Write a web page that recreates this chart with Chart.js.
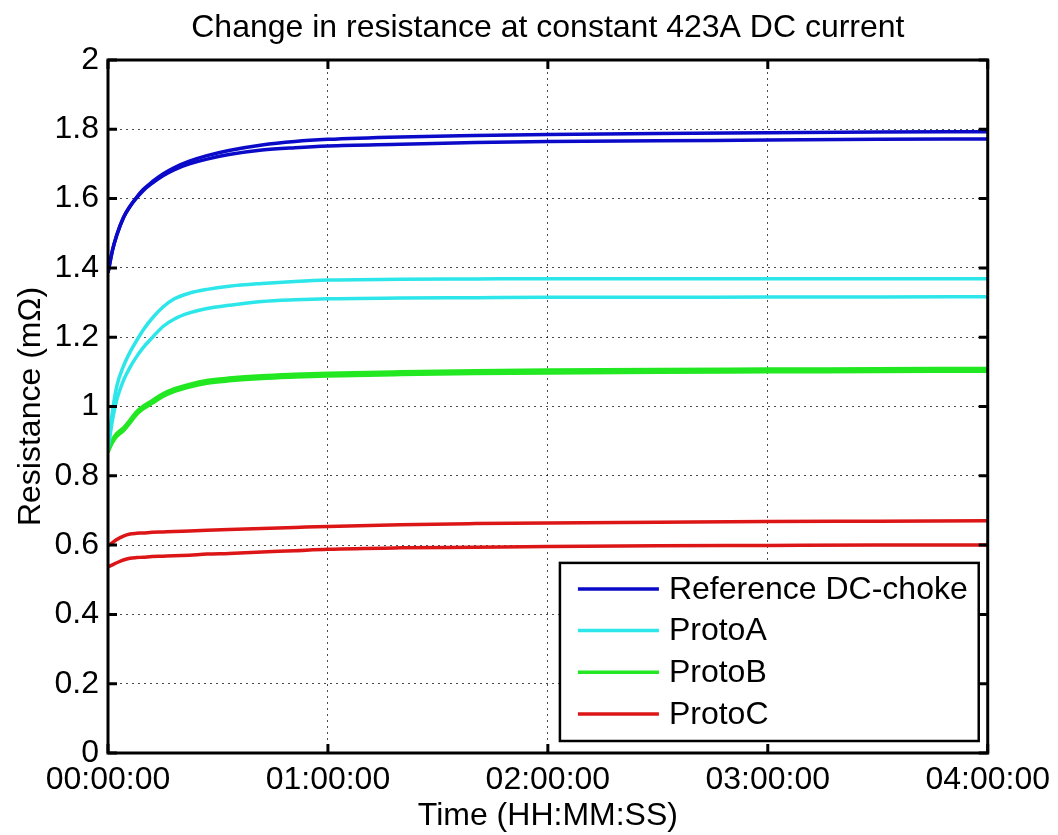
<!DOCTYPE html>
<html>
<head>
<meta charset="utf-8">
<title>Change in resistance at constant 423A DC current</title>
<script src="https://cdn.jsdelivr.net/npm/chart.js@4"></script>
<style>
  html, body { margin: 0; padding: 0; background: #fff; }
  canvas { display: block; }
</style>
</head>
<body>
<canvas id="chart" width="1058" height="835"></canvas>
<script>
// Elapsed time of each sample, in hours
const hours = [0, 0.02, 0.04, 0.07, 0.1, 0.13, 0.16, 0.2, 0.25, 0.3, 0.37, 0.45, 0.55, 0.7, 0.85, 1.0, 1.33, 1.67, 2.0, 2.5, 3.0, 3.5, 4.0];

// Resistance in mOhm, two measurements per choke
const refChoke1 = [1.386, 1.45, 1.495, 1.545, 1.578, 1.604, 1.626, 1.648, 1.671, 1.689, 1.708, 1.724, 1.739, 1.755, 1.765, 1.771, 1.778, 1.782, 1.785, 1.788, 1.790, 1.792, 1.793];
const refChoke2 = [1.386, 1.45, 1.495, 1.545, 1.577, 1.602, 1.623, 1.644, 1.666, 1.683, 1.700, 1.714, 1.727, 1.740, 1.747, 1.752, 1.757, 1.762, 1.765, 1.767, 1.769, 1.771, 1.772];
const protoA1 = [0.875, 0.985, 1.059, 1.116, 1.157, 1.19, 1.221, 1.254, 1.287, 1.31, 1.327, 1.338, 1.347, 1.355, 1.361, 1.365, 1.367, 1.368, 1.369, 1.369, 1.369, 1.369, 1.369];
const protoA2 = [0.875, 0.96, 1.02, 1.075, 1.113, 1.144, 1.17, 1.198, 1.231, 1.252, 1.27, 1.283, 1.292, 1.303, 1.308, 1.311, 1.313, 1.314, 1.315, 1.315, 1.316, 1.316, 1.317];
const protoB1 = [0.876, 0.904, 0.922, 0.938, 0.961, 0.985, 1.001, 1.017, 1.037, 1.051, 1.064, 1.075, 1.082, 1.089, 1.093, 1.096, 1.100, 1.103, 1.105, 1.107, 1.108, 1.109, 1.110];
const protoB2 = [0.868, 0.896, 0.914, 0.930, 0.953, 0.977, 0.993, 1.009, 1.029, 1.043, 1.056, 1.067, 1.074, 1.081, 1.085, 1.088, 1.092, 1.095, 1.097, 1.099, 1.100, 1.101, 1.102];
const protoC1 = [0.598, 0.607, 0.616, 0.626, 0.632, 0.634, 0.635, 0.637, 0.638, 0.639, 0.641, 0.643, 0.645, 0.648, 0.651, 0.654, 0.659, 0.662, 0.664, 0.666, 0.668, 0.669, 0.670];
const protoC2 = [0.537, 0.543, 0.549, 0.557, 0.562, 0.564, 0.565, 0.567, 0.568, 0.569, 0.571, 0.574, 0.576, 0.580, 0.584, 0.588, 0.592, 0.594, 0.596, 0.598, 0.599, 0.600, 0.600];

const seriesNames = ['Reference DC-choke', 'ProtoA', 'ProtoB', 'ProtoC'];
const seriesRuns = [[refChoke1, refChoke2], [protoA1, protoA2], [protoB1, protoB2], [protoC1, protoC2]];
const seriesColors = ['#0a0ac8', '#2ce6ea', '#22e822', '#dc1616'];

const yTicks = [0, 0.2, 0.4, 0.6, 0.8, 1, 1.2, 1.4, 1.6, 1.8, 2];
const yTickLabels = ['0', '0.2', '0.4', '0.6', '0.8', '1', '1.2', '1.4', '1.6', '1.8', '2'];
const xTickHours = [0, 1, 2, 3, 4];
const xTickLabels = ['00:00:00', '01:00:00', '02:00:00', '03:00:00', '04:00:00'];

const chartTitle = 'Change in resistance at constant 423A DC current';
const FONT = '"Liberation Sans", Arial, Helvetica, sans-serif';
const FONT_SIZE = 32;

const datasets = [];
seriesRuns.forEach((runs, s) => {
  runs.forEach(run => {
    datasets.push({
      label: seriesNames[s],
      data: hours.map((h, i) => ({ x: h, y: run[i] })),
      borderColor: seriesColors[s],
      backgroundColor: seriesColors[s],
      borderWidth: 3.5,
      pointRadius: 0,
      cubicInterpolationMode: 'monotone',
      fill: false
    });
  });
});

// Title centred over the plot box
const titlePlugin = {
  id: 'plotTitle',
  afterDraw(chart) {
    const { ctx, chartArea: a } = chart;
    ctx.save();
    ctx.fillStyle = '#000';
    ctx.font = FONT_SIZE + 'px ' + FONT;
    ctx.textAlign = 'center';
    ctx.textBaseline = 'middle';
    ctx.fillText(chartTitle, (a.left + a.right) / 2, 28);
    ctx.restore();
  }
};

// Boxed axes with inward tick marks on all four sides
const framePlugin = {
  id: 'axesFrame',
  afterDatasetsDraw(chart) {
    const { ctx, chartArea: a, scales: { x, y } } = chart;
    const tl = 9;
    ctx.save();
    ctx.strokeStyle = '#000';
    ctx.lineWidth = 3;
    ctx.beginPath();
    yTicks.forEach(v => {
      const py = y.getPixelForValue(v);
      ctx.moveTo(a.left, py); ctx.lineTo(a.left + tl, py);
      ctx.moveTo(a.right, py); ctx.lineTo(a.right - tl, py);
    });
    xTickHours.forEach(v => {
      const px = x.getPixelForValue(v);
      ctx.moveTo(px, a.bottom); ctx.lineTo(px, a.bottom - tl);
      ctx.moveTo(px, a.top); ctx.lineTo(px, a.top + tl);
    });
    ctx.stroke();
    ctx.strokeRect(a.left, a.top, a.right - a.left, a.bottom - a.top);
    ctx.restore();
  }
};

// Legend box in the lower right corner of the plot
const legendPlugin = {
  id: 'boxLegend',
  afterDraw(chart) {
    const { ctx, chartArea: a } = chart;
    ctx.save();
    ctx.font = FONT_SIZE + 'px ' + FONT;
    const textW = Math.max(...seriesNames.map(n => ctx.measureText(n).width));
    const rowH = 41.7;
    const w = 109 + textW + 11;
    const h = 26 + rowH * (seriesNames.length - 1) + 27;
    const right = a.right - 9;
    const bottom = a.bottom - 12;
    const left = right - w;
    const top = bottom - h;
    ctx.fillStyle = '#fff';
    ctx.fillRect(left, top, w, h);
    ctx.strokeStyle = '#000';
    ctx.lineWidth = 2.5;
    ctx.strokeRect(left, top, w, h);
    ctx.textAlign = 'left';
    ctx.textBaseline = 'middle';
    seriesNames.forEach((name, i) => {
      const cy = top + 26 + i * rowH;
      ctx.strokeStyle = seriesColors[i];
      ctx.lineWidth = 3.5;
      ctx.beginPath();
      ctx.moveTo(left + 18, cy);
      ctx.lineTo(left + 99, cy);
      ctx.stroke();
      ctx.fillStyle = '#000';
      ctx.fillText(name, left + 109, cy + 1);
    });
    ctx.restore();
  }
};

const gridColor = 'rgba(0,0,0,0.7)';

new Chart(document.getElementById('chart'), {
  type: 'line',
  data: { datasets },
  options: {
    responsive: false,
    animation: false,
    devicePixelRatio: 1,
    layout: { padding: { top: 60, right: 70, bottom: 0, left: 0 } },
    plugins: {
      legend: { display: false },
      title: { display: false },
      tooltip: { enabled: false }
    },
    scales: {
      x: {
        type: 'linear',
        min: 0,
        max: 4,
        afterBuildTicks: s => { s.ticks = xTickHours.map(v => ({ value: v })); },
        afterFit: s => { s.height = 82; },
        grid: { color: gridColor, lineWidth: 1, drawTicks: false },
        border: { display: false, dash: [2, 4] },
        ticks: {
          padding: 8,
          color: '#000',
          font: { family: FONT, size: FONT_SIZE },
          maxRotation: 0,
          autoSkip: false,
          callback: (v) => xTickLabels[xTickHours.indexOf(v)]
        },
        title: {
          display: true,
          text: 'Time (HH:MM:SS)',
          color: '#000',
          font: { family: FONT, size: FONT_SIZE },
          padding: { top: 0, bottom: 0 }
        }
      },
      y: {
        type: 'linear',
        min: 0,
        max: 2,
        afterBuildTicks: s => { s.ticks = yTicks.map(v => ({ value: v })); },
        afterFit: s => { s.width = 108; },
        grid: { color: gridColor, lineWidth: 1, drawTicks: false },
        border: { display: false, dash: [2, 4] },
        ticks: {
          padding: 9,
          color: '#000',
          font: { family: FONT, size: FONT_SIZE },
          autoSkip: false,
          callback: (v) => yTickLabels[yTicks.indexOf(v)]
        },
        title: {
          display: true,
          text: 'Resistance (m\u03A9)',
          color: '#000',
          font: { family: FONT, size: FONT_SIZE },
          padding: { top: 12, bottom: 0 }
        }
      }
    }
  },
  plugins: [titlePlugin, framePlugin, legendPlugin]
});
</script>
</body>
</html>
